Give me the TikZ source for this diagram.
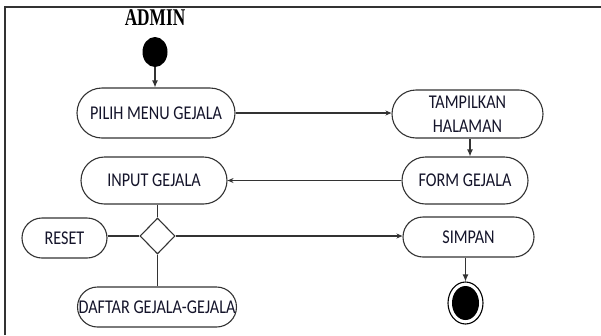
\documentclass[tikz,border=0pt]{standalone}
\usepackage{fontspec}
\usetikzlibrary{shapes.misc,shapes.geometric,arrows.meta}
\newfontfamily\boxfont{Carlito}
\newfontfamily\titlefont{Liberation Serif}
\newcommand\narrow[1]{\scalebox{0.83}[1]{#1}}
\definecolor{ink}{HTML}{14142A}
\definecolor{edge}{HTML}{333333}
\tikzset{
  activity/.style={rounded rectangle, draw=edge, line width=1.1pt, fill=white,
    inner sep=0pt, text=ink, align=center,
    font=\boxfont\fontsize{19.5}{24.5}\selectfont},
  flow/.style={draw=edge, line width=1.1pt},
  harrow/.style={flow, -{Stealth[length=6pt,width=5pt]}},
  varrow/.style={flow, -{Latex[length=7pt,width=6pt]}},
  choice/.style={diamond, draw=edge, line width=1.1pt, fill=white, inner sep=0pt,
    minimum width=35pt, minimum height=36pt},
}
\begin{document}
\begin{tikzpicture}[x=1pt,y=-1pt]
\useasboundingbox (0,0) rectangle (601,335);
% frame of the swimlane
\draw[edge, line width=1.4pt] (5,335) -- (5,7) -- (601,7);
\node (title) at (155,18) {\titlefont\bfseries\fontsize{24}{24}\selectfont\scalebox{0.72}[1]{ADMIN}};

% start and end markers
\node (start) [ellipse, fill=black, minimum width=25pt, minimum height=30pt, inner sep=0pt] at (155,52) {};
\node (stop) [ellipse, draw=black, line width=1.1pt, minimum width=35pt, minimum height=42pt, inner sep=0pt] at (465.5,303) {};
\fill[black] (stop.center) ellipse [x radius=13.5pt, y radius=17pt];

% activities
\node (pilih)  [activity, minimum width=158pt, minimum height=50pt] at (156,113) {\narrow{PILIH MENU GEJALA}};
\node (tampil) [activity, minimum width=151pt, minimum height=48pt] at (467.5,114) {\narrow{TAMPILKAN}\\\narrow{HALAMAN}};
\node (form)   [activity, minimum width=126pt, minimum height=47pt] at (465,180.5) {\narrow{FORM GEJALA}};
\node (input)  [activity, minimum width=146pt, minimum height=47pt] at (154,180.5) {\narrow{INPUT GEJALA}};
\node (dec)    [choice] at (157.5,236) {};
\node (reset)  [activity, minimum width=85pt, minimum height=40pt] at (64.5,238) {\narrow{RESET}};
\node (daftar) [activity, minimum width=150pt, minimum height=40pt] at (157,307) {\narrow{DAFTAR GEJALA-GEJALA}};
\node (simpan) [activity, minimum width=131pt, minimum height=40pt] at (468.5,237) {\narrow{SIMPAN}};

% connectors
\draw[varrow] (start.south) -- (start.south |- pilih.north);
\draw[harrow] (pilih.east) -- (tampil.west |- pilih.east);
\draw[varrow] ([xshift=2.5pt]tampil.south) -- ([xshift=2.5pt]tampil.south |- form.north);
\draw[harrow] (form.west) -- (input.east);
\draw[flow] (input.south -| dec.north) -- (dec.north);
\draw[flow] (dec.west) -- (reset.east |- dec.west);
\draw[flow] (dec.south) -- (dec.south |- daftar.north);
\draw[harrow] (dec.east) -- (simpan.west |- dec.east);
\draw[varrow] (simpan.south -| stop.north) -- (stop.north);
\end{tikzpicture}
\end{document}
